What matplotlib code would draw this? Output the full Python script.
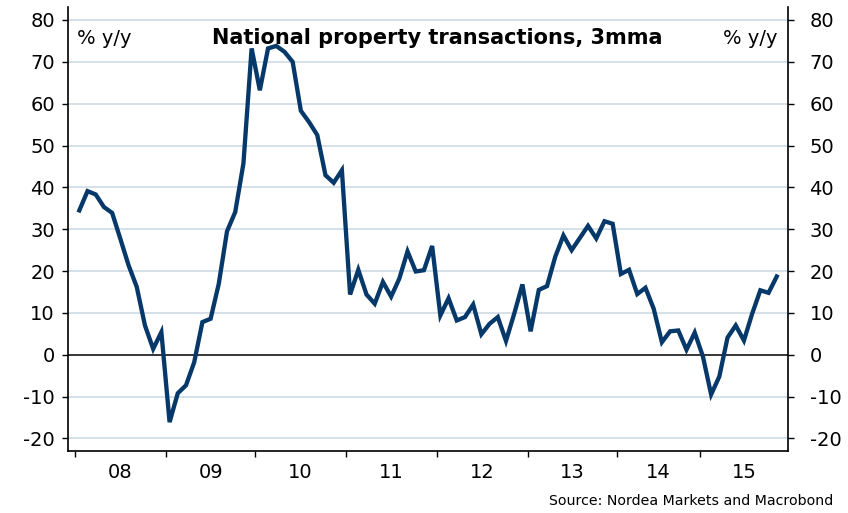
import numpy as np
import matplotlib
matplotlib.use("Agg")
import matplotlib.pyplot as plt

plt.rcParams["axes.unicode_minus"] = False

# 3mma % y/y, roughly 11 obs per year
values = [34.5, 39.1, 38.3, 35.3, 33.9, 27.7, 21.4, 16.2, 7.0, 1.4, 5.4,
          -16.1, -9.2, -7.3, -1.8, 7.8, 8.6, 17.0, 29.5, 34.1, 45.7, 73.2,
          63.2, 73.2, 73.8, 72.4, 70.0, 58.3, 55.6, 52.5, 42.9, 41.1, 44.1,
          14.4, 20.3, 14.4, 12.2, 17.4, 13.9, 18.2, 24.7, 19.9, 20.2, 26.0,
          9.4, 13.5, 8.2, 9.0, 12.0, 4.9, 7.4, 9.0, 3.3, 9.8, 16.8,
          5.6, 15.5, 16.4, 23.4, 28.5, 25.0, 27.9, 30.8, 27.8, 31.9, 31.3,
          19.3, 20.3, 14.5, 16.0, 11.0, 3.0, 5.6, 5.8, 1.2, 5.3, -0.4,
          -9.5, -5.2, 4.1, 7.0, 3.4, 9.8, 15.4, 14.8, 18.7]
year_labels = ["08", "09", "10", "11", "12", "13", "14", "15"]

# year boundaries in observation-index units
year_pos = [-0.56, 10.57, 21.45, 32.47, 43.56, 54.65, 65.5, 75.6]
x_end = 86.37

x = np.arange(len(values))
navy = "#06386a"
grid_col = "#c9d7e2"
ylim = (-23.0, 83.1)
yticks = range(-20, 90, 10)

fig = plt.figure(figsize=(8.48, 5.13), dpi=100)
ax = fig.add_axes([68/848, 1 - 451/513, 720/848, 444/513])

for v in yticks:
    if v == 0:
        ax.axhline(0, color="black", lw=1.1, zorder=2)
    else:
        ax.axhline(v, color=grid_col, lw=1.1, zorder=1)

ax.plot(x, values, color=navy, lw=3.1, solid_joinstyle="miter", zorder=3)

ax.set_xlim(-1.38, x_end)
ax.set_ylim(*ylim)
ax.set_yticks(yticks)
ax.tick_params(axis="y", direction="out", length=4.5, width=1,
               labelsize=14, pad=5)

# right-hand axis, same scale, labels set a bit further out
ax2 = ax.twinx()
ax2.set_ylim(*ylim)
ax2.set_yticks(yticks)
ax2.tick_params(axis="y", direction="out", length=4.5, width=1,
                labelsize=14, pad=11)
for s in ["top", "left", "bottom"]:
    ax2.spines[s].set_visible(False)
ax2.spines["right"].set_linewidth(1.2)

ax.set_xticks(year_pos)
ax.set_xticklabels([])
mids = [(year_pos[i] + (year_pos[i + 1] if i + 1 < len(year_pos) else x_end)) / 2
        for i in range(len(year_pos))]
ax.set_xticks(mids, minor=True)
ax.set_xticklabels(year_labels, minor=True)
ax.tick_params(axis="x", which="major", direction="out", length=4.5, width=1)
ax.tick_params(axis="x", which="minor", length=0, labelsize=14, pad=9)

ax.spines["top"].set_visible(False)
ax.spines["right"].set_visible(False)
for s in ["left", "bottom"]:
    ax.spines[s].set_linewidth(1.2)

ax.text(0.012, 0.930, "% y/y", transform=ax.transAxes, fontsize=14,
        ha="left", va="center")
ax.text(0.985, 0.930, "% y/y", transform=ax.transAxes, fontsize=14,
        ha="right", va="center")
ax.text(0.513, 0.930, "National property transactions, 3mma",
        transform=ax.transAxes, fontsize=15, fontweight="bold",
        ha="center", va="center")

fig.text(833/848, 1 - 501/513, "Source: Nordea Markets and Macrobond",
         fontsize=10.2, ha="right", va="center")

fig.savefig("out.png", dpi=100)
